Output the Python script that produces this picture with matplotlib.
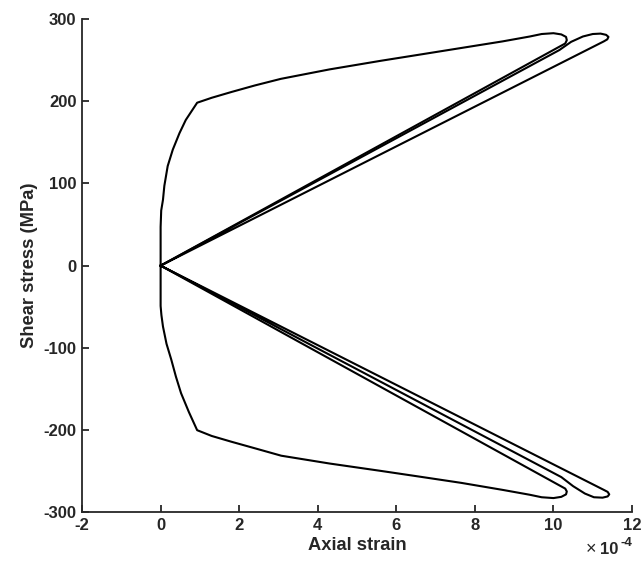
import matplotlib.pyplot as plt

plt.rcParams['font.family'] = ['Liberation Sans', 'DejaVu Sans']
plt.rcParams['axes.unicode_minus'] = False

# axial strain in units of 1e-4, shear stress in MPa
# first cycle, positive side: envelope then unloading to the origin
up1_strain = [0, 0, 0.015, 0.06, 0.095, 0.18, 0.31, 0.48, 0.64, 0.93, 1.3, 1.8, 2.4, 3.06,
              4.3, 5.61, 6.6, 7.65, 8.7, 9.4, 9.7, 10.0, 10.2, 10.32, 10.34, 10.3, 0]
up1_stress = [0, 47, 67, 80, 97, 121, 141, 161, 177, 198, 204, 211, 219, 227,
              238.5, 249, 256.5, 264.5, 272.5, 278.5, 281.5, 282.5, 281, 278, 274, 270, 0]
# second cycle, positive side: reloading, tip, unloading
up2_strain = [0, 10.15, 10.45, 10.75, 11.0, 11.2, 11.34, 11.4, 11.37, 11.28, 0]
up2_stress = [0, 262, 272, 278.5, 281.5, 282, 280.5, 278, 275, 272.5, 0]

# first cycle, negative side
lo1_strain = [0, 0, 0.02, 0.06, 0.15, 0.27, 0.39, 0.52, 0.72, 0.93, 1.3, 1.8, 2.4, 3.07,
              4.3, 5.61, 6.6, 7.65, 8.7, 9.4, 9.7, 10.0, 10.2, 10.32, 10.34, 10.3, 0]
lo1_stress = [0, -49, -60, -74, -95, -114, -135, -155, -178, -200, -207, -214, -222, -231,
              -240.5, -249.5, -256.5, -264, -272.5, -278.5, -281.5, -282.5, -281, -278, -274.5, -271, 0]
# second cycle, negative side
lo2_strain = [0, 10.2, 10.5, 10.8, 11.03, 11.25, 11.38, 11.42, 11.38, 11.28, 0]
lo2_stress = [0, -257, -268, -277, -281.5, -282, -280.5, -278, -275, -272.5, 0]

xticks = [-2, 0, 2, 4, 6, 8, 10, 12]
yticks = [-300, -200, -100, 0, 100, 200, 300]

fig = plt.figure(figsize=(6.41, 5.61), dpi=100)
ax = fig.add_axes([0.128, 0.0865, 0.858, 0.88])

for xs, ys in [(up1_strain, up1_stress), (up2_strain, up2_stress),
               (lo1_strain, lo1_stress), (lo2_strain, lo2_stress)]:
    ax.plot(xs, ys, color='black', lw=1.5, solid_joinstyle='round')

ax.set_xlim(-2, 12)
ax.set_ylim(-300, 300)
ax.set_xticks(xticks)
ax.set_yticks(yticks)
ax.set_xticklabels([str(v) for v in xticks], fontweight='bold', fontsize=12)
ax.set_yticklabels([str(v) for v in yticks], fontweight='bold', fontsize=12)

for s in ['top', 'right']:
    ax.spines[s].set_visible(False)
for s in ['left', 'bottom']:
    ax.spines[s].set_color('#262626')
    ax.spines[s].set_linewidth(1.3)
ax.tick_params(direction='in', length=5, width=1.3, color='#262626', labelcolor='#262626', pad=4)

ax.set_xlabel('Axial strain', fontweight='bold', fontsize=13.2, color='#262626')
ax.xaxis.set_label_coords(0.5, -0.05)
ax.set_ylabel('Shear stress (MPa)', fontweight='bold', fontsize=13.2, color='#262626')
ax.yaxis.set_label_coords(-0.08, 0.5)

# exponent label for the strain axis
ax.text(0.916, -0.084, '×', transform=ax.transAxes, ha='left', va='baseline',
        fontsize=13, color='#262626')
ax.text(0.942, -0.084, '10', transform=ax.transAxes, ha='left', va='baseline',
        fontsize=12, fontweight='bold', color='#262626')
ax.text(0.979, -0.068, '-4', transform=ax.transAxes, ha='left', va='baseline',
        fontsize=9.5, fontweight='bold', color='#262626')

fig.savefig('out.png', dpi=100)
